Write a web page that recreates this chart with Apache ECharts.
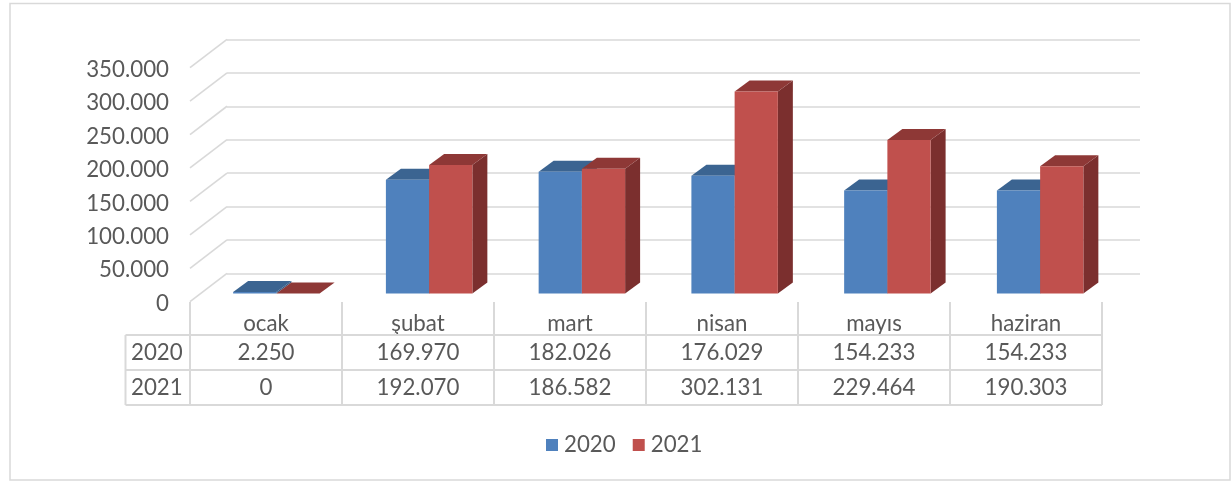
<!DOCTYPE html>
<html>
<head>
<meta charset="utf-8">
<style>html,body{margin:0;padding:0;background:#fff}#c{width:1232px;height:481px}</style>
<script src="https://cdn.jsdelivr.net/npm/echarts@6/dist/echarts.min.js"></script>
</head>
<body>
<div id="c"></div>
<script>
const categories = ['ocak', 'şubat', 'mart', 'nisan', 'mayıs', 'haziran'];
const seriesNames = ['2020', '2021'];
const values2020 = [2250, 169970, 182026, 176029, 154233, 154233];
const values2021 = [0, 192070, 186582, 302131, 229464, 190303];
const yTicks = [0, 50000, 100000, 150000, 200000, 250000, 300000, 350000];

const FONT = 'Lato';
const TEXT = '#595959';
const LINE = '#d9d9d9';
const LW = 1.6;
const FS = 22.3;
const front = {left: 190, top: 67.7, width: 912, height: 234};
const back = {left: 227, top: 39.4, width: 913, height: 234};
const bars = {left: 200, top: 59.5, width: 916.5, height: 234};
const labels = {left: 190, top: 69.7, width: 912, height: 234};
const tableY = [335, 370, 405];
const tableLeft = 125.5;
const rowCenter = [353, 388];
const rowHeadX = 131;
const barFrac = 0.283, depthX = 15, depthY = 11;
const faces = [
  {front: '#4F81BD', top: '#3B6491', side: '#345A84'},
  {front: '#C0504D', top: '#8E3836', side: '#7B2F2E'}
];

const fmt = v => String(v).replace(/\B(?=(\d{3})+(?!\d))/g, '.');

function barRender(sIdx) {
  return function (params, api) {
    const c = api.coord([api.value(0), api.value(1)]);
    const b = api.coord([api.value(0), 0]);
    const w = api.size([1, 0])[0] * barFrac;
    const x0 = sIdx === 0 ? c[0] - w : c[0], x1 = x0 + w;
    const yT = c[1], yB = b[1];
    const f = faces[sIdx];
    const poly = (pts, fill) => ({type: 'polygon', shape: {points: pts}, style: {fill: fill}, silent: true});
    return {type: 'group', children: [
      poly([[x1, yT], [x1 + depthX, yT - depthY], [x1 + depthX, yB - depthY], [x1, yB]], f.side),
      poly([[x0, yT], [x0 + depthX, yT - depthY], [x1 + depthX, yT - depthY], [x1, yT]], f.top),
      poly([[x0, yT], [x1, yT], [x1, yB], [x0, yB]], f.front)
    ]};
  };
}

function diagRender(params, api) {
  const cs = params.coordSys;
  const y = api.coord([0, api.value(0)])[1];
  return {type: 'line', silent: true,
    shape: {x1: cs.x, y1: y, x2: back.left, y2: y - (front.top - back.top)},
    style: {stroke: LINE, lineWidth: LW}};
}

function cellRender(params, api) {
  const col = api.value(0), row = api.value(1);
  const x = api.coord([col, 0])[0];
  return {type: 'text', silent: true, style: {
    x: x, y: rowCenter[row], text: fmt(api.value(2)),
    fill: TEXT, font: FS + 'px ' + FONT, align: 'center', verticalAlign: 'middle'}};
}

const cellData = [];
[values2020, values2021].forEach((arr, r) => arr.forEach((v, c) => cellData.push([c, r, v])));

const ln = (x1, y1, x2, y2) => ({type: 'line', silent: true, z: 1,
  shape: {x1, y1, x2, y2}, style: {stroke: LINE, lineWidth: LW + 0.4}});
const tableLines = [];
for (let i = 0; i <= categories.length; i++) {
  const x = front.left + i * front.width / categories.length;
  tableLines.push(ln(x, 302, x, tableY[2]));
}
tableLines.push(ln(tableLeft, tableY[0], tableLeft, tableY[2]));
tableY.forEach(y => tableLines.push(ln(tableLeft, y, front.left + front.width, y)));
const rowHeads = seriesNames.map((n, r) => ({type: 'text', silent: true, z: 2,
  style: {x: rowHeadX, y: rowCenter[r], text: n, fill: TEXT, font: FS + 'px ' + FONT, align: 'left', verticalAlign: 'middle'}}));
const frame = {type: 'rect', silent: true, z: 0, shape: {x: 10, y: 3.5, width: 1220, height: 476.5},
  style: {fill: 'none', stroke: LINE, lineWidth: 1.5}};

const chart = echarts.init(document.getElementById('c'), null, {renderer: 'canvas'});
chart.setOption({
  animation: false,
  backgroundColor: '#fff',
  textStyle: {fontFamily: FONT},
  graphic: {elements: [frame].concat(tableLines, rowHeads)},
  legend: {
    data: seriesNames.map((n, i) => ({name: n, itemStyle: {color: faces[i].front}, icon: 'rect'})),
    left: 546, top: 434, itemWidth: 12, itemHeight: 12, itemGap: 17,
    textStyle: {color: TEXT, fontSize: FS, fontFamily: FONT, padding: [0, 0, 0, 1]},
    padding: 0, selectedMode: false
  },
  grid: [
    Object.assign({containLabel: false}, front),
    Object.assign({containLabel: false}, back),
    Object.assign({containLabel: false}, bars),
    Object.assign({containLabel: false}, labels)
  ],
  xAxis: [
    {gridIndex: 0, type: 'category', data: categories, axisLine: {show: false}, axisTick: {show: false},
      axisLabel: {color: TEXT, fontSize: FS, fontFamily: FONT, margin: 11}},
    {gridIndex: 1, type: 'category', data: categories, show: false},
    {gridIndex: 2, type: 'category', data: categories, show: false},
    {gridIndex: 3, type: 'category', data: categories, show: false}
  ],
  yAxis: [
    {gridIndex: 0, type: 'value', min: 0, max: 350000, interval: 50000, show: false},
    {gridIndex: 1, type: 'value', min: 0, max: 350000, interval: 50000,
      axisLine: {show: false}, axisTick: {show: false}, axisLabel: {show: false},
      splitLine: {show: true, lineStyle: {color: LINE, width: LW}}},
    {gridIndex: 2, type: 'value', min: 0, max: 350000, interval: 50000, show: false},
    {gridIndex: 3, type: 'value', min: 0, max: 350000, interval: 50000,
      axisLine: {show: false}, axisTick: {show: false}, splitLine: {show: false},
      axisLabel: {color: TEXT, fontSize: FS, fontFamily: FONT, margin: 21, formatter: v => fmt(v)}}
  ],
  series: [
    {type: 'custom', name: 'diag', xAxisIndex: 0, yAxisIndex: 0, data: yTicks.map(v => [v]),
      encode: {y: 0}, renderItem: diagRender, clip: false, silent: true, z: 1},
    {type: 'custom', name: '2020', xAxisIndex: 2, yAxisIndex: 2, itemStyle: {color: faces[0].front},
      data: values2020.map((v, i) => [i, v]), encode: {x: 0, y: 1}, renderItem: barRender(0), clip: false, z: 3},
    {type: 'custom', name: '2021', xAxisIndex: 2, yAxisIndex: 2, itemStyle: {color: faces[1].front},
      data: values2021.map((v, i) => [i, v]), encode: {x: 0, y: 1}, renderItem: barRender(1), clip: false, z: 4},
    {type: 'custom', name: 'table', xAxisIndex: 0, yAxisIndex: 0, data: cellData,
      encode: {x: 0}, renderItem: cellRender, clip: false, silent: true, z: 5}
  ]
});
</script>
</body>
</html>
